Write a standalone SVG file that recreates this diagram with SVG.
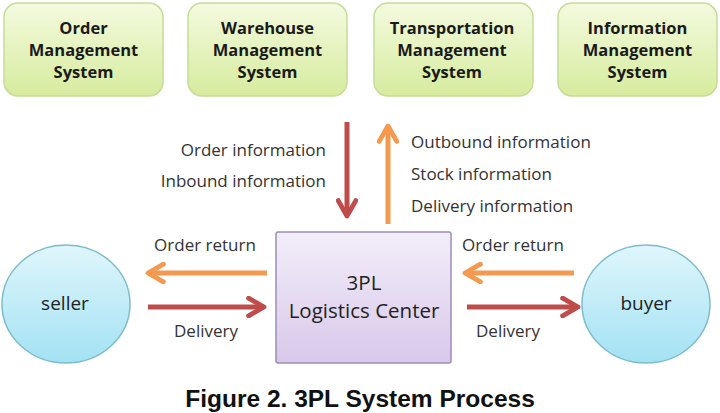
<svg xmlns="http://www.w3.org/2000/svg" width="720" height="413" viewBox="0 0 720 413">
<defs>
<linearGradient id="gGreen" x1="0" y1="0" x2="0" y2="1"><stop offset="0" stop-color="#f4fadf"/><stop offset="1" stop-color="#d6ec9e"/></linearGradient>
<linearGradient id="gPurple" x1="0" y1="0" x2="0" y2="1"><stop offset="0" stop-color="#f3eefa"/><stop offset="1" stop-color="#d8c8ea"/></linearGradient>
<linearGradient id="gCyan" x1="0" y1="0" x2="0" y2="1"><stop offset="0" stop-color="#dff6fc"/><stop offset="1" stop-color="#a3e2f3"/></linearGradient>
<marker id="mRed" viewBox="0 0 10 10" refX="8" refY="5" markerWidth="4.4" markerHeight="4.4" orient="auto" markerUnits="strokeWidth"><path d="M1,1 L8,5 L1,9" fill="none" stroke="#bf4b4b" stroke-width="2.2" stroke-linecap="round" stroke-linejoin="round"/></marker>
<marker id="mOrange" viewBox="0 0 10 10" refX="8" refY="5" markerWidth="4.4" markerHeight="4.4" orient="auto" markerUnits="strokeWidth"><path d="M1,1 L8,5 L1,9" fill="none" stroke="#f39a50" stroke-width="2.2" stroke-linecap="round" stroke-linejoin="round"/></marker>
</defs>
<style>
.sys rect{fill:url(#gGreen);stroke:#c6dc98;stroke-width:1.5}
.sys text{font-family:"Open Sans","Noto Sans",sans-serif;font-weight:bold;font-size:16.5px;fill:#1a1a1a;text-anchor:middle}
.lbl{font-family:"Open Sans","Noto Sans",sans-serif;font-size:17px;fill:#333}
.red{stroke:#bf4b4b;stroke-width:5;fill:none;marker-end:url(#mRed)}
.org{stroke:#f39a50;stroke-width:5;fill:none;marker-end:url(#mOrange)}
.circ{fill:url(#gCyan);stroke:#7fbccc;stroke-width:1.5}
.ctext{font-family:"Open Sans","Noto Sans",sans-serif;font-size:20.5px;fill:#222;text-anchor:middle}
</style>
<rect width="720" height="413" fill="#ffffff"/>
<g id="oms" class="sys"><rect x="4" y="3" width="159" height="93" rx="14"/><text x="83.5" y="34">Order</text><text x="83.5" y="56">Management</text><text x="83.5" y="78">System</text></g>
<g id="wms" class="sys"><rect x="188" y="3" width="159" height="93" rx="14"/><text x="267.5" y="34">Warehouse</text><text x="267.5" y="56">Management</text><text x="267.5" y="78">System</text></g>
<g id="tms" class="sys"><rect x="374" y="3" width="159" height="93" rx="14"/><text x="452" y="34">Transportation</text><text x="452" y="56">Management</text><text x="452" y="78">System</text></g>
<g id="ims" class="sys"><rect x="558" y="3" width="159" height="93" rx="14"/><text x="637.5" y="34">Information</text><text x="637.5" y="56">Management</text><text x="637.5" y="78">System</text></g>
<g id="center"><rect x="276" y="232" width="175" height="131" fill="url(#gPurple)" stroke="#9e8cb6" stroke-width="1.5" rx="2"/><text class="ctext" x="364" y="290">3PL</text><text class="ctext" x="364" y="318">Logistics Center</text></g>
<g id="seller"><ellipse class="circ" cx="66" cy="304" rx="64" ry="59"/><text class="ctext" x="65" y="310" style="font-size:19px">seller</text></g>
<g id="buyer"><ellipse class="circ" cx="646" cy="304" rx="64" ry="59"/><text class="ctext" x="646" y="310" style="font-size:19px">buyer</text></g>
<g id="connectors">
<line class="red" x1="347" y1="122" x2="347" y2="216"/>
<line class="org" x1="388" y1="224" x2="388" y2="126"/>
<line class="org" x1="267" y1="273" x2="148" y2="273"/>
<line class="red" x1="148" y1="307" x2="264" y2="307"/>
<line class="org" x1="574" y1="273" x2="465" y2="273"/>
<line class="red" x1="467" y1="307" x2="578" y2="307"/>
</g>
<g id="labels">
<text class="lbl" x="326" y="156" text-anchor="end">Order information</text>
<text class="lbl" x="326" y="187" text-anchor="end">Inbound information</text>
<text class="lbl" x="411" y="148">Outbound information</text>
<text class="lbl" x="411" y="180">Stock information</text>
<text class="lbl" x="411" y="212">Delivery information</text>
<text class="lbl" x="205" y="251" text-anchor="middle">Order return</text>
<text class="lbl" x="206" y="337" text-anchor="middle">Delivery</text>
<text class="lbl" x="513" y="251" text-anchor="middle">Order return</text>
<text class="lbl" x="508" y="337" text-anchor="middle">Delivery</text>
</g>
<text x="360" y="407" text-anchor="middle" font-family="'Liberation Sans',Arial,sans-serif" font-weight="bold" font-size="24.5" fill="#111">Figure 2. 3PL System Process</text>
</svg>
